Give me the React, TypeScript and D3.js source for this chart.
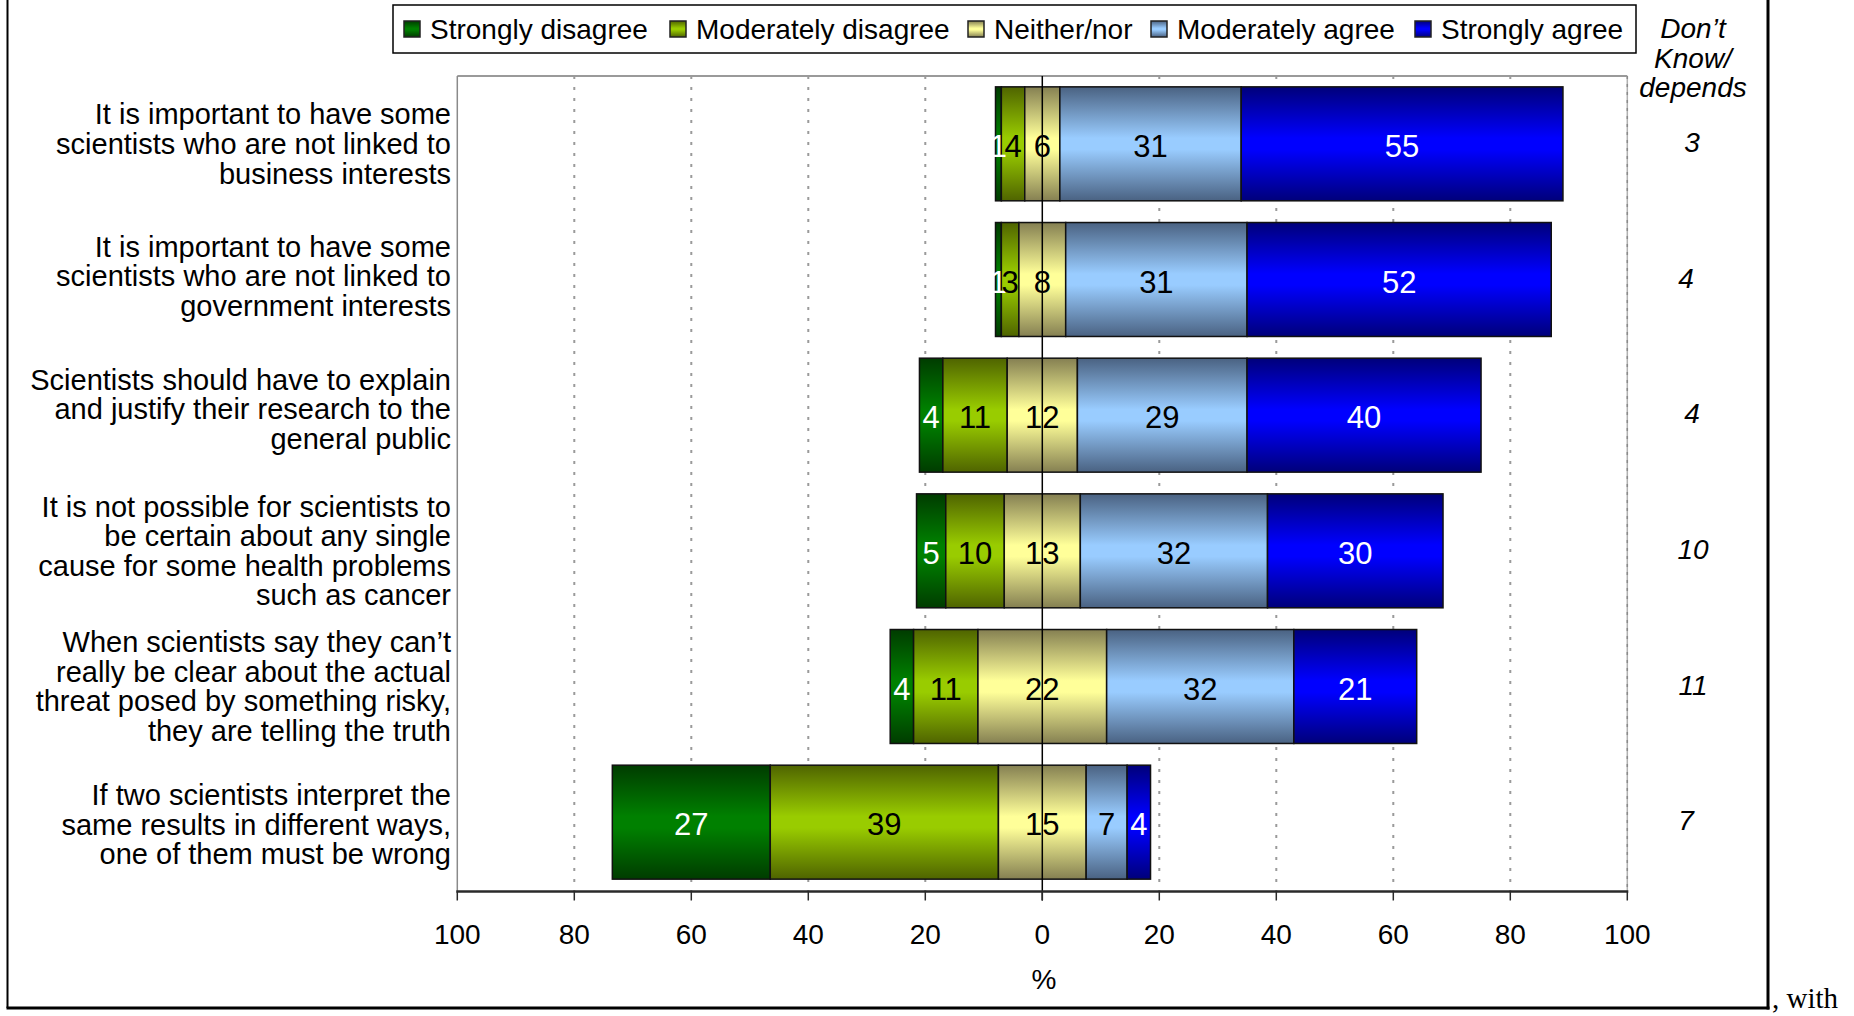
import React from "react";
import * as d3 from "d3";

const categories: string[][] = [
  ["It is important to have some", "scientists who are not linked to", "business interests"],
  ["It is important to have some", "scientists who are not linked to", "government interests"],
  ["Scientists should have to explain", "and justify their research  to the", "general public"],
  ["It is not possible for scientists to", "be certain about any single", "cause for some health problems", "such as cancer"],
  ["When scientists say they can\u2019t", "really be clear about the actual", "threat posed by something risky,", "they are telling the truth"],
  ["If two scientists interpret the", "same results in different ways,", "one of them must be wrong"],
];

const seriesNames = ["Strongly disagree", "Moderately disagree", "Neither/nor", "Moderately agree", "Strongly agree"];
const stronglyDisagree = [1, 1, 4, 5, 4, 27];
const moderatelyDisagree = [4, 3, 11, 10, 11, 39];
const neitherNor = [6, 8, 12, 13, 22, 15];
const moderatelyAgree = [31, 31, 29, 32, 32, 7];
const stronglyAgree = [55, 52, 40, 30, 21, 4];
const dontKnow = [3, 4, 4, 10, 11, 7];
const xTicks = [-100, -80, -60, -40, -20, 0, 20, 40, 60, 80, 100];

const gradDark = ["#003c00", "#4f6400", "#858052", "#4a6282", "#00007a"];
const gradLight = ["#008000", "#99cc00", "#ffff99", "#99ccff", "#0000ff"];
const labelColors = ["#ffffff", "#000000", "#000000", "#000000", "#ffffff"];
const legendX = [404, 670, 968, 1151, 1415];
const labelShift = [0, -3.5, -6, 0, 0, 2.4];
const dkX = [1692, 1686, 1692, 1693, 1693, 1686];

const FONT = "'Liberation Sans', Arial, sans-serif";

export default function App() {
  const x = d3.scaleLinear().domain([-100, 100]).range([457.3, 1627.3]);
  const y = d3
    .scaleBand<number>()
    .domain(categories.map((_, i) => i))
    .range([76, 890])
    .paddingInner(0.16)
    .paddingOuter(0.08);
  const bw = y.bandwidth();
  const series = [stronglyDisagree, moderatelyDisagree, neitherNor, moderatelyAgree, stronglyAgree];

  const segments: { row: number; s: number; x0: number; x1: number; v: number }[] = [];
  categories.forEach((_, i) => {
    let start = -(stronglyDisagree[i] + moderatelyDisagree[i] + neitherNor[i] / 2);
    series.forEach((arr, s) => {
      const v = arr[i];
      segments.push({ row: i, s, x0: start, x1: start + v, v });
      start += v;
    });
  });

  const axisY = 891.5;
  const plotTop = 76;

  return (
    <div style={{ position: "fixed", left: 0, top: 0 }}>
      <svg width={1854} height={1016} style={{ display: "block", background: "#fff" }}>
        <defs>
          {gradDark.map((dk, s) => (
            <linearGradient key={s} id={`g${s}`} x1="0" y1="0" x2="0" y2="1">
              <stop offset="0" stopColor={dk} />
              <stop offset="0.45" stopColor={gradLight[s]} />
              <stop offset="0.55" stopColor={gradLight[s]} />
              <stop offset="1" stopColor={dk} />
            </linearGradient>
          ))}
        </defs>

        {/* outer frame */}
        <line x1={7.5} y1={0} x2={7.5} y2={1008} stroke="#000" strokeWidth={2} />
        <line x1={1768} y1={0} x2={1768} y2={1009.5} stroke="#000" strokeWidth={3} />
        <line x1={6.5} y1={1008} x2={1769.5} y2={1008} stroke="#000" strokeWidth={3} />
        <text x={1772} y={1008} fontFamily="'Liberation Serif', 'Times New Roman', serif" fontSize={29} fill="#000">
          , with
        </text>

        {/* legend */}
        <rect x={393} y={5} width={1243} height={48} fill="#fff" stroke="#000" strokeWidth={1.5} />
        {seriesNames.map((name, s) => (
          <g key={name}>
            <rect x={legendX[s]} y={21} width={16} height={16} fill={`url(#g${s})`} stroke="#222" strokeWidth={1.5} />
            <text x={legendX[s] + 26} y={29} dy="0.35em" fontFamily={FONT} fontSize={28} fill="#000">
              {name}
            </text>
          </g>
        ))}

        {/* Don't know header */}
        {["Don\u2019t", "Know/", "depends"].map((t, k) => (
          <text key={t} x={1693} y={28.5 + k * 29.5} dy="0.35em" textAnchor="middle" fontFamily={FONT} fontStyle="italic" fontSize={28} fill="#000">
            {t}
          </text>
        ))}

        {/* gridlines */}
        {xTicks
          .filter((t) => t !== 0 && Math.abs(t) !== 100)
          .map((t) => (
            <line key={t} x1={x(t)} x2={x(t)} y1={plotTop} y2={axisY} stroke="#9a9a9a" strokeWidth={2} strokeDasharray="3 8" />
          ))}
        {/* plot frame */}
        <line x1={x(-100)} x2={x(100)} y1={plotTop} y2={plotTop} stroke="#9a9a9a" strokeWidth={2} />
        <line x1={x(-100)} x2={x(-100)} y1={plotTop} y2={axisY} stroke="#8a8a8a" strokeWidth={1.5} />
        <line x1={x(100)} x2={x(100)} y1={plotTop} y2={axisY} stroke="#b0b0b0" strokeWidth={1.5} />
        <line x1={x(100)} x2={x(100)} y1={plotTop} y2={axisY} stroke="#8a8a8a" strokeWidth={1.5} strokeDasharray="3 5" />

        {/* bars */}
        {segments.map((d, k) => (
          <rect
            key={k}
            x={x(d.x0)}
            y={y(d.row)!}
            width={x(d.x1) - x(d.x0)}
            height={bw}
            fill={`url(#g${d.s})`}
            stroke="#111"
            strokeWidth={1.5}
          />
        ))}

        {/* zero line */}
        <line x1={x(0)} x2={x(0)} y1={plotTop} y2={axisY + 9} stroke="#000" strokeWidth={1.5} />

        {/* bar labels */}
        {segments.map((d, k) => (
          <text
            key={k}
            x={x((d.x0 + d.x1) / 2)}
            y={y(d.row)! + bw / 2}
            dy="0.43em"
            textAnchor="middle"
            fontFamily={FONT}
            fontSize={31}
            fill={labelColors[d.s]}
          >
            {d.v}
          </text>
        ))}

        {/* category labels */}
        {categories.map((lines, i) => {
          const cy = y(i)! + bw / 2 + labelShift[i];
          const lh = 29.6;
          return (
            <text key={i} fontFamily={FONT} fontSize={29} fill="#000" textAnchor="end">
              {lines.map((ln, j) => (
                <tspan key={j} x={451} y={cy + (j - (lines.length - 1) / 2) * lh} dy="0.35em">
                  {ln}
                </tspan>
              ))}
            </text>
          );
        })}

        {/* don't know values */}
        {dontKnow.map((v, i) => (
          <text key={i} x={dkX[i]} y={y(i)! + bw / 2 - 1.5} dy="0.35em" textAnchor="middle" fontFamily={FONT} fontStyle="italic" fontSize={28} fill="#000">
            {v}
          </text>
        ))}

        {/* x axis */}
        <line x1={x(-100) - 1} x2={x(100) + 1} y1={axisY} y2={axisY} stroke="#2a2a2a" strokeWidth={2.5} />
        {xTicks.map((t) => (
          <g key={t}>
            <line x1={x(t)} x2={x(t)} y1={axisY} y2={axisY + 9} stroke="#2a2a2a" strokeWidth={1.5} />
            <text x={x(t)} y={934} dy="0.35em" textAnchor="middle" fontFamily={FONT} fontSize={28} fill="#000">
              {Math.abs(t)}
            </text>
          </g>
        ))}
        <text x={1044} y={979} dy="0.35em" textAnchor="middle" fontFamily={FONT} fontSize={28} fill="#000">
          %
        </text>
      </svg>
    </div>
  );
}
